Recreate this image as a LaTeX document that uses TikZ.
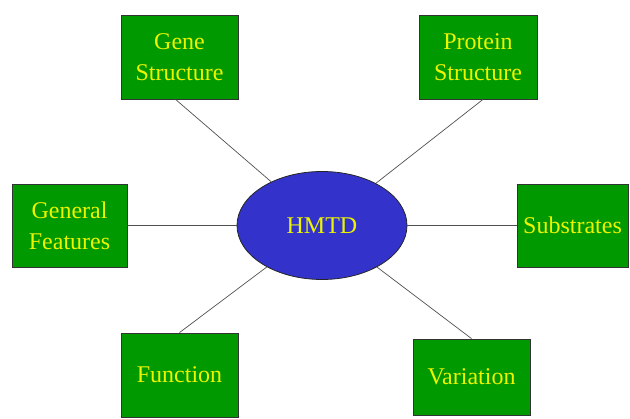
\documentclass[tikz,border=0pt]{standalone}
\usepackage{fontspec}
\setmainfont{Liberation Serif}
\newfontfamily\labelfont{Liberation Serif}
\usetikzlibrary{shapes.geometric}
\definecolor{boxgreen}{RGB}{0,153,0}
\definecolor{labelyellow}{RGB}{236,244,0}
\definecolor{hubblue}{RGB}{51,51,204}
\definecolor{linkgrey}{RGB}{80,80,80}
\tikzset{
  topic/.style={draw=black!80, line width=0.8pt, fill=boxgreen, text=labelyellow,
    font=\labelfont\fontsize{24}{31}\selectfont, align=center, inner sep=0pt},
  hub/.style={ellipse, draw=black!85, line width=0.8pt, fill=hubblue, text=labelyellow,
    font=\labelfont\fontsize{24}{31}\selectfont, minimum width=170pt, minimum height=108pt, inner sep=0pt},
  link/.style={draw=linkgrey, line width=0.7pt}
}
\begin{document}
\begin{tikzpicture}[x=1pt,y=1pt]
  \useasboundingbox (0,0) rectangle (630,419);
  \node[hub] (hmtd) at (322,193.5) {HMTD};
  \node[topic, minimum width=117pt, minimum height=84pt] (gene) at (179.5,362) {Gene\\Structure};
  \node[topic, minimum width=118pt, minimum height=84pt] (protein) at (478,362) {Protein\\Structure};
  \node[topic, minimum width=115pt, minimum height=83pt] (general) at (69.5,193.5) {General\\Features};
  \node[topic, minimum width=111pt, minimum height=83pt] (substrates) at (572.5,193.5) {Substrates};
  \node[topic, minimum width=117pt, minimum height=84pt] (function) at (179.5,44) {Function};
  \node[topic, minimum width=117pt, minimum height=76pt] (variation) at (471.5,42) {\raisebox{-6pt}{Variation}};
  \draw[link] ([xshift=-4pt]gene.south) -- (hmtd);
  \draw[link] ([xshift=5pt]protein.south) -- (hmtd);
  \draw[link] (general.east) -- (hmtd);
  \draw[link] (substrates.west) -- (hmtd);
  \draw[link] (function.north) -- (hmtd);
  \draw[link] (variation.north) -- (hmtd);
\end{tikzpicture}
\end{document}
